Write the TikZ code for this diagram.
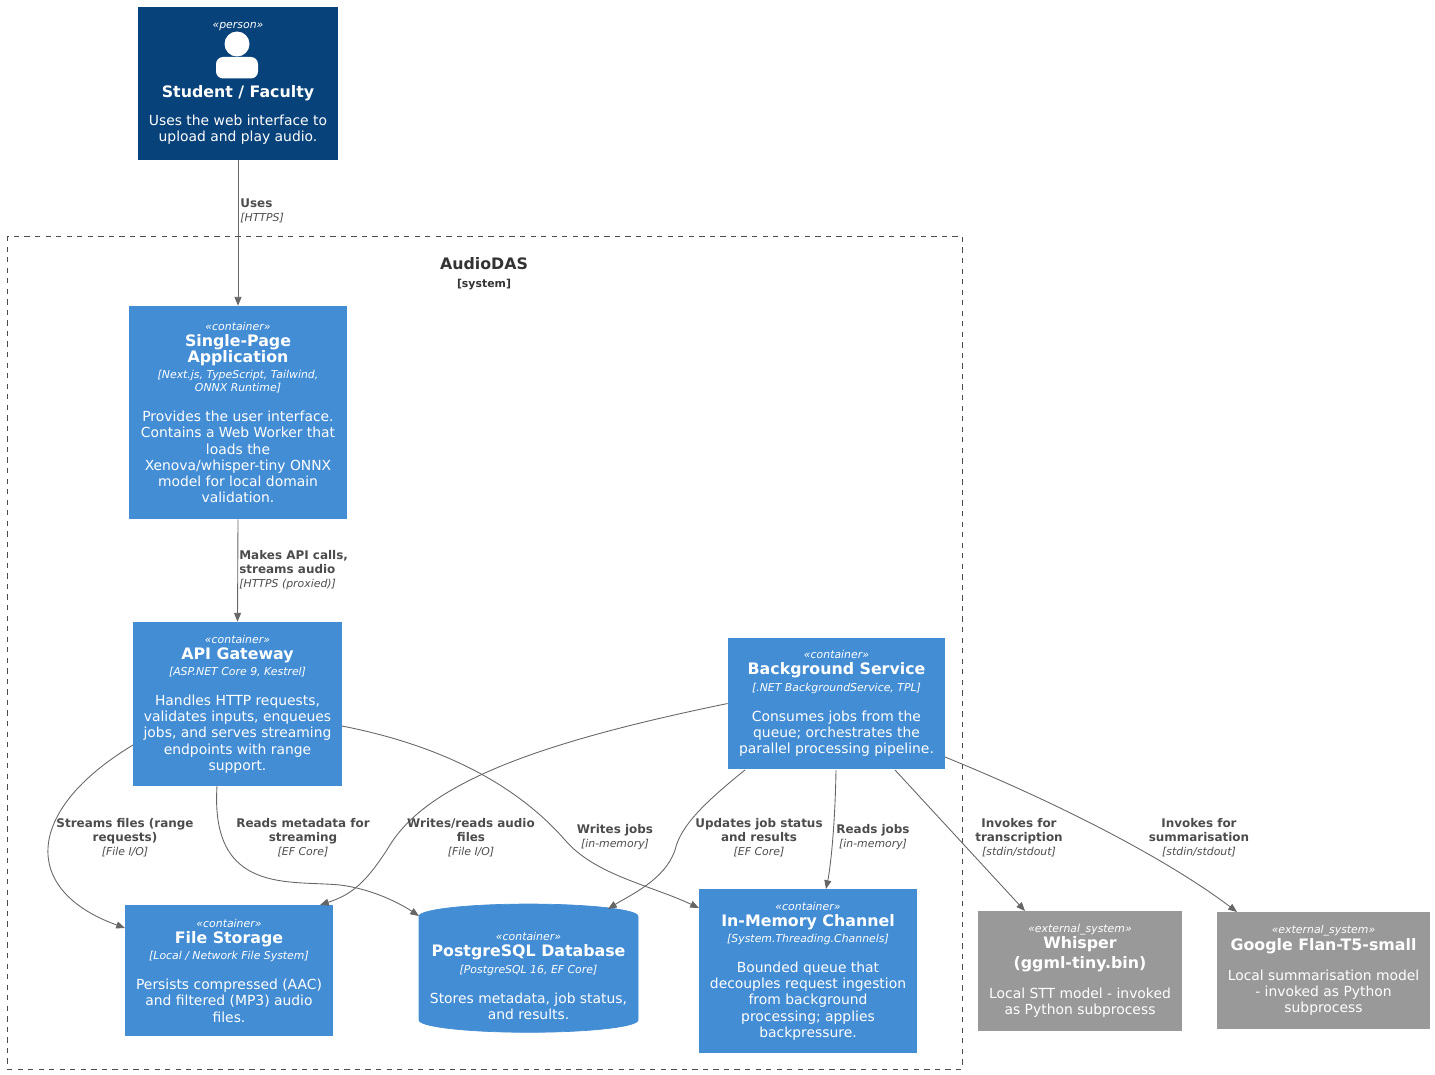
\documentclass[tikz,border=0pt]{standalone}
\usepackage{fontspec}
\setmainfont{DejaVu Sans}
\usetikzlibrary{shapes.geometric,arrows.meta}
\definecolor{personblue}{HTML}{08427B}
\definecolor{contblue}{HTML}{438DD5}
\definecolor{extgray}{HTML}{999999}
\definecolor{linegray}{HTML}{666666}
\newcommand{\fstereo}{\fontsize{6.2pt}{7.4pt}\selectfont\itshape\mdseries}
\newcommand{\fttl}{\fontsize{9pt}{10pt}\selectfont\bfseries}
\newcommand{\fbody}{\fontsize{7.9pt}{9.2pt}\selectfont\mdseries\upshape}
\begin{document}
\begin{tikzpicture}[
    box/.style={rectangle, text=white, align=center, inner sep=2pt, font=\fbody},
    person/.style={box, fill=personblue},
    container/.style={box, fill=contblue},
    external/.style={box, fill=extgray},
    rel/.style={draw=linegray, line width=0.5pt, -{Triangle[length=5pt,width=4pt]}},
    lbl/.style={text=black!70, align=center, inner sep=0pt,
      font=\fontsize{6.8pt}{7.9pt}\selectfont\bfseries}
]
\useasboundingbox (0,0) rectangle (28.7,-21.48);
% boundary
\draw[dashed, black!70, line width=0.5pt] (0.14,-4.72) rectangle (19.24,-21.38);
\node[text=black!80, align=center, inner sep=0pt, font=\fttl] (sysname) at (9.68,-5.47)
  {AudioDAS\\\fstereo\bfseries\upshape [system]};

% person
\node[person, minimum width=4cm, minimum height=3.06cm] (user) at (4.76,-1.67)
  {\fstereo «person»\\[30pt]\fttl Student / Faculty\\[7pt]\fbody Uses the web interface to\\\fbody upload and play audio.};
\fill[white] (4.74,-0.88) circle (0.25);
\fill[white, rounded corners=4pt] (4.32,-1.57) rectangle (5.16,-1.14);

% containers
\node[container, minimum width=4.36cm, minimum height=4.26cm] (spa) at (4.76,-8.25)
  {\fstereo «container»\\\fttl Single-Page\\\fttl Application\\\fstereo [Next.js, TypeScript, Tailwind,\\[-2pt]\fstereo ONNX Runtime]\\[8pt]\fbody Provides the user interface.\\\fbody Contains a Web Worker that\\\fbody loads the\\\fbody Xenova/whisper-tiny ONNX\\\fbody model for local domain\\\fbody validation.};
\node[container, minimum width=4.18cm, minimum height=3.28cm] (api) at (4.75,-14.08)
  {\fstereo «container»\\\fttl API Gateway\\\fstereo [ASP.NET Core 9, Kestrel]\\[8pt]\fbody Handles HTTP requests,\\\fbody validates inputs, enqueues\\\fbody jobs, and serves streaming\\\fbody endpoints with range\\\fbody support.};
\node[container, minimum width=4.34cm, minimum height=2.62cm] (bg) at (16.73,-14.07)
  {\fstereo «container»\\\fttl Background Service\\\fstereo [.NET BackgroundService, TPL]\\[8pt]\fbody Consumes jobs from the\\\fbody queue; orchestrates the\\\fbody parallel processing pipeline.};
\node[container, minimum width=4.16cm, minimum height=2.62cm] (fs) at (4.58,-19.41)
  {\fstereo «container»\\\fttl File Storage\\\fstereo [Local / Network File System]\\[8pt]\fbody Persists compressed (AAC)\\\fbody and filtered (MP3) audio\\\fbody files.};
\node[cylinder, shape border rotate=90, aspect=0.12, fill=contblue, draw=contblue, text=white,
  align=center, inner sep=2pt, font=\fbody, minimum width=4.38cm, minimum height=2.3cm] (db) at (10.57,-19.52)
  {\fstereo «container»\\\fttl PostgreSQL Database\\\fstereo [PostgreSQL 16, EF Core]\\[8pt]\fbody Stores metadata, job status,\\\fbody and results.};
\node[container, minimum width=4.36cm, minimum height=3.28cm] (chan) at (16.16,-19.42)
  {\fstereo «container»\\\fttl In-Memory Channel\\\fstereo [System.Threading.Channels]\\[8pt]\fbody Bounded queue that\\\fbody decouples request ingestion\\\fbody from background\\\fbody processing; applies\\\fbody backpressure.};
\node[external, minimum width=4.08cm, minimum height=2.4cm] (whisper) at (21.6,-19.42)
  {\fstereo «external\_system»\\\fttl Whisper\\[2pt]\fttl (ggml-tiny.bin)\\[8pt]\fbody Local STT model - invoked\\\fbody as Python subprocess};
\node[external, minimum width=4.26cm, minimum height=2.34cm] (flan) at (26.47,-19.41)
  {\fstereo «external\_system»\\\fttl Google Flan-T5-small\\[8pt]\fbody Local summarisation model\\\fbody - invoked as Python\\\fbody subprocess};

% relations
\draw[rel] (user.south) -- (spa.north);
\node[lbl, align=left, anchor=west] (l1) at (4.8,-4.22) {Uses\\\fstereo [HTTPS]};
\draw[rel] (spa.south) -- (api.north);
\node[lbl, align=left, anchor=west] (l2) at (4.78,-11.4) {Makes API calls,\\streams audio\\\fstereo [HTTPS (proxied)]};
\draw[rel] (2.66,-14.9) .. controls (0.5,-16.2) and (0.4,-17.8) .. (2.5,-18.56);
\node[lbl] (l3) at (2.5,-16.75) {Streams files (range\\requests)\\\fstereo [File I/O]};
\draw[rel] (4.34,-15.72) .. controls (4.2,-17.9) and (5.8,-17.6) .. (6.8,-17.7) .. controls (7.6,-17.8) and (8.2,-18.2) .. (8.38,-18.32);
\node[lbl] (l4) at (6.06,-16.75) {Reads metadata for\\streaming\\\fstereo [EF Core]};
\draw[rel] (bg.west) .. controls (11,-14.8) and (8.6,-15.6) .. (7.8,-16.9) .. controls (7.3,-17.7) and (7,-17.9) .. (6.4,-18.1);
\node[lbl] (l5) at (9.42,-16.75) {Writes/reads audio\\files\\\fstereo [File I/O]};
\draw[rel] (6.84,-14.52) .. controls (9.3,-15) and (10.6,-16) .. (11.3,-16.8) .. controls (11.9,-17.5) and (13,-17.7) .. (13.98,-18.16);
\node[lbl] (l6) at (12.3,-16.75) {Writes jobs\\\fstereo [in-memory]};
\draw[rel] (14.9,-15.4) .. controls (13.9,-16.2) and (13.6,-16.6) .. (13.5,-17) .. controls (13.3,-17.6) and (12.6,-17.9) .. (12.16,-18.18);
\node[lbl] (l7) at (15.18,-16.75) {Updates job status\\and results\\\fstereo [EF Core]};
\draw[rel] (16.72,-15.4) .. controls (16.7,-16.6) and (16.6,-17.4) .. (16.52,-17.78);
\node[lbl] (l8) at (17.46,-16.75) {Reads jobs\\\fstereo [in-memory]};
\draw[rel] (17.9,-15.4) -- (20.5,-18.22);
\node[lbl] (l9) at (20.38,-16.75) {Invokes for\\transcription\\\fstereo [stdin/stdout]};
\draw[rel] (18.9,-15.14) .. controls (21.5,-16.2) and (23.5,-17.3) .. (24.74,-18.24);
\node[lbl] (l10) at (23.98,-16.75) {Invokes for\\summarisation\\\fstereo [stdin/stdout]};
\end{tikzpicture}
\end{document}
